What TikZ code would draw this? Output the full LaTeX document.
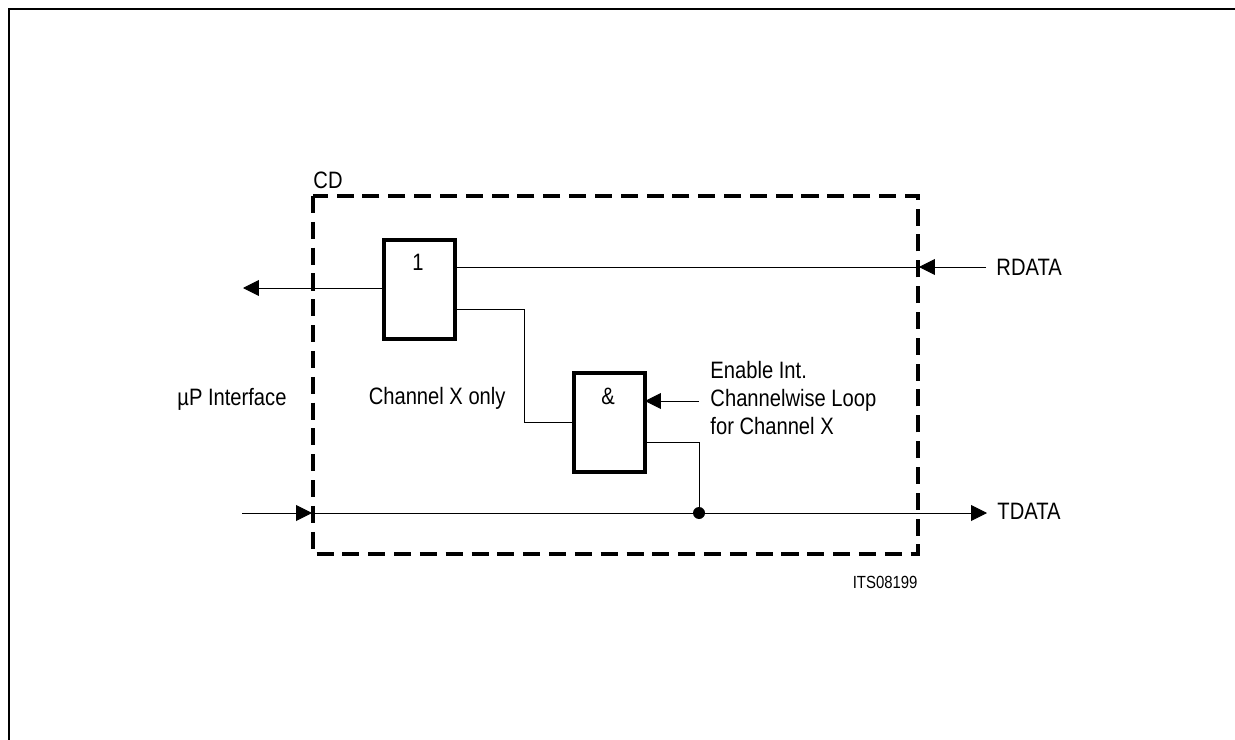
\documentclass[tikz,border=0pt]{standalone}
\usepackage{fontspec}
\setmainfont[FakeStretch=0.85]{Liberation Sans}
\usetikzlibrary{arrows.meta}

\begin{document}
\begin{tikzpicture}[x=0.02cm, y=-0.02cm, line width=0.55pt,
    every node/.style={font=\fontsize{13.5}{16}\selectfont, inner sep=0pt},
    gatebox/.style={draw, line width=2.3pt, minimum width=40.5pt, minimum height=56.5pt, anchor=north west},
    sigarrow/.style={-{Triangle[length=9pt, width=9pt]}},
    cdframe/.style={draw, line width=2.2pt, dash pattern=on 9.7pt off 5pt}]
  \useasboundingbox (0,0) rectangle (1235,740);
  \draw[line width=1.6pt] (9,740) -- (9,9) -- (1235,9);
  % frame of the CD block
  \draw[cdframe] (313,196) rectangle (918,554);
  \node[anchor=south west] (cd) at (313,189) {CD};
  % gates
  \node[gatebox] (orgate) at (381.5,237.5) {};
  \node[gatebox] (andgate) at (571.5,371) {};
  \node (orlabel) at (418,262) {1};
  \node (andlabel) at (608,396) {\&};
  % labels
  \node[anchor=west] (rdata) at (996,267) {RDATA};
  \node[anchor=west] (tdata) at (997,511) {TDATA};
  \node[anchor=east] (mup) at (287,399) {µP Interface};
  \node[anchor=east] (chonly) at (506,398) {Channel X only};
  \node[anchor=west, align=left] (enable) at (710,398) {Enable Int.\\Channelwise Loop\\for Channel X};
  \node[anchor=east, font=\fontsize{10}{12}\selectfont] (its) at (918,582) {ITS08199};
  % free ends
  \coordinate (rin) at (986,267);
  \coordinate (rtip) at (919,267);
  \coordinate (upout) at (243,288);
  \coordinate (tin) at (242,513);
  \coordinate (ttip) at (312,513);
  \coordinate (tout) at (987,513);
  \coordinate (enin) at (699,401);
  \coordinate (entip) at (645,401);
  \coordinate (andout) at (699,442);
  \coordinate (orlow) at (524,309);
  \coordinate (andin) at (524,422);
  % connectors
  \draw[sigarrow] (orgate.west |- upout) -- (upout);
  \draw[sigarrow] (rin) -- (rtip);
  \draw (rtip) -- (orgate.east |- rtip);
  \draw (orgate.east |- orlow) -- (orlow) -- (andin) -- (andgate.west |- andin);
  \draw[sigarrow] (enin) -- (entip);
  \draw (andgate.east |- andout) -- (andout) -- (andout |- tin);
  \draw[sigarrow] (tin) -- (ttip);
  \draw[sigarrow] (ttip) -- (tout);
  \fill (andout |- tin) circle (6);
\end{tikzpicture}
\end{document}
